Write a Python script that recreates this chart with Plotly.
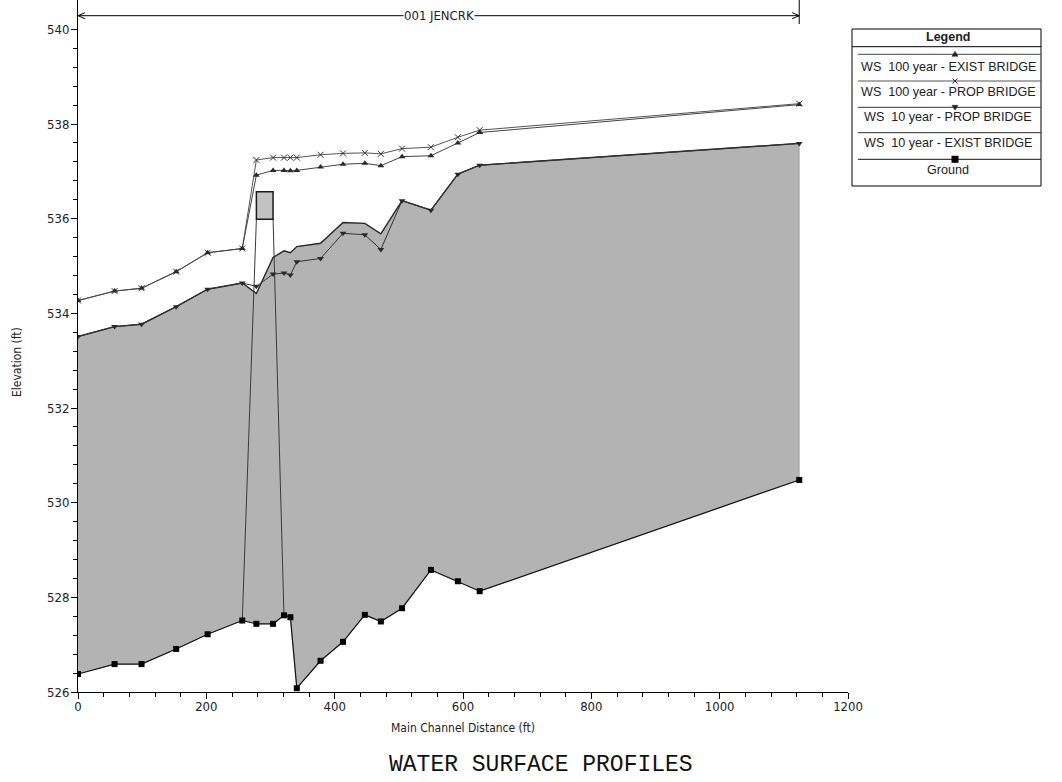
import plotly.graph_objects as go

W, H = 1062, 782
ML, MR, MT, MB = 78, 214, 0, 90

# River stations (ft) along the main channel
stations = [0, 57, 99, 153, 202, 256, 278, 304, 321, 331, 341, 378, 413, 447, 472,
            505, 550, 592, 626, 1124]

ground = [526.38, 526.59, 526.59, 526.91, 527.22, 527.51, 527.44, 527.44, 527.62,
          527.58, 526.08, 526.66, 527.06, 527.63, 527.49, 527.77, 528.58, 528.34,
          528.13, 530.48]

ws100_exist = [534.27, 534.47, 534.53, 534.88, 535.28, 535.37, 536.92, 537.02, 537.02,
               537.01, 537.02, 537.09, 537.15, 537.17, 537.12, 537.31, 537.33, 537.60,
               537.82, 538.41]

ws100_prop = [534.27, 534.47, 534.53, 534.88, 535.28, 535.37, 537.24, 537.29, 537.29,
              537.29, 537.29, 537.35, 537.38, 537.39, 537.37, 537.48, 537.51, 537.72,
              537.87, 538.43]

ws10_prop = [533.51, 533.72, 533.77, 534.14, 534.51, 534.64, 534.57, 534.83, 534.85,
             534.81, 535.09, 535.16, 535.69, 535.66, 535.35, 536.38, 536.18, 536.94,
             537.13, 537.59]

ws10_exist = [533.51, 533.72, 533.77, 534.14, 534.51, 534.64, 534.42, 535.18, 535.32,
              535.28, 535.41, 535.48, 535.92, 535.90, 535.68, 536.38, 536.18, 536.94,
              537.13, 537.59]

# Bridge geometry
bridge_face_sta = [278, 304]
bridge_toe_sta = [256, 321]
bridge_low_chord = 535.99
bridge_high_chord = 536.57

reach_name = "001 JENCRK"
x_ticks = [0, 200, 400, 600, 800, 1000, 1200]
y_ticks = [526, 528, 530, 532, 534, 536, 538, 540]
x_minor = [v for v in range(0, 1201, 40) if v % 200]
y_minor = [round(526 + 0.4 * i, 1) for i in range(36) if i % 5]

series_names = ["WS  100 year - EXIST BRIDGE", "WS  100 year - PROP BRIDGE",
                "WS  10 year - PROP BRIDGE", "WS  10 year - EXIST BRIDGE", "Ground"]

NARROW = "Liberation Sans Narrow, DejaVu Sans Condensed, Liberation Sans, Arial"
SANS = "Liberation Sans, Arial"
FILL = "#b3b3b3"

PW = W - ML - MR
PH = H - MT - MB


def px(x):
    """Figure pixel column -> paper x."""
    return (x - ML) / PW


def py(y):
    """Figure pixel row -> paper y."""
    return (H - MB - y) / PH


fig = go.Figure()

# Water between ground and the 10-year existing-bridge surface
fig.add_trace(go.Scatter(
    x=stations + stations[::-1], y=ws10_exist + ground[::-1],
    fill="toself", fillcolor=FILL, mode="lines",
    line=dict(color="#8a8a8a", width=0.6), hoverinfo="skip", showlegend=False))

# Bridge abutment lines, ground toe to deck
toe_elev = [ground[stations.index(s)] for s in bridge_toe_sta]
fig.add_trace(go.Scatter(
    x=[bridge_toe_sta[0], bridge_face_sta[0], None, bridge_face_sta[1], bridge_toe_sta[1]],
    y=[toe_elev[0], bridge_low_chord, None, bridge_low_chord, toe_elev[1]],
    mode="lines", line=dict(color="#3a3a3a", width=1), showlegend=False, hoverinfo="skip"))

line_col = "#2a2a2a"
fig.add_trace(go.Scatter(
    x=stations, y=ws100_prop, mode="lines+markers", name=series_names[1],
    line=dict(color="#555555", width=1),
    marker=dict(symbol="x-thin", size=6, line=dict(color="#333333", width=1))))
fig.add_trace(go.Scatter(
    x=stations, y=ws100_exist, mode="lines+markers", name=series_names[0],
    line=dict(color="#444444", width=1),
    marker=dict(symbol="triangle-up", size=6, color=line_col)))
fig.add_trace(go.Scatter(
    x=stations, y=ws10_exist, mode="lines", name=series_names[3],
    line=dict(color=line_col, width=1.4)))
fig.add_trace(go.Scatter(
    x=stations, y=ws10_prop, mode="lines+markers", name=series_names[2],
    line=dict(color="#333333", width=1),
    marker=dict(symbol="triangle-down", size=6, color=line_col)))
fig.add_trace(go.Scatter(
    x=stations, y=ground, mode="lines+markers", name=series_names[4],
    line=dict(color="#111111", width=1.2),
    marker=dict(symbol="square", size=6, color="#000000")))

shapes = []
annotations = []

# Bridge deck
shapes.append(dict(type="rect", xref="x", yref="y",
                   x0=bridge_face_sta[0], x1=bridge_face_sta[1],
                   y0=bridge_low_chord, y1=bridge_high_chord,
                   fillcolor="#c2c2c2", line=dict(color="#1a1a1a", width=1.5)))

# Reach extent marker along the top
ry = py(15.7)
shapes.append(dict(type="line", xref="x", yref="paper", x0=stations[0], x1=stations[-1],
                   y0=ry, y1=ry, line=dict(color="#000000", width=1)))
shapes.append(dict(type="line", xref="x", yref="paper", x0=stations[-1], x1=stations[-1],
                   y0=py(24), y1=py(0), line=dict(color="#000000", width=1)))
ax_len = 7 * 1200 / PW
ah = 3 / PH
for xe, sgn in [(stations[0], 1), (stations[-1], -1)]:
    for d in (ah, -ah):
        shapes.append(dict(type="line", xref="x", yref="paper", x0=xe, x1=xe + sgn * ax_len,
                           y0=ry, y1=ry + d, line=dict(color="#000000", width=1)))
annotations.append(dict(x=(stations[0] + stations[-1]) / 2, y=ry, xref="x", yref="paper",
                        text=reach_name, showarrow=False, bgcolor="white", borderpad=0,
                        font=dict(family=NARROW, size=13, color="#222222"),
                        xanchor="center", yanchor="middle"))

# Legend panel
lx0, lx1, ly0, ly1 = 852, 1041, 29, 186
shapes.append(dict(type="rect", xref="paper", yref="paper", x0=px(lx0), x1=px(lx1),
                   y0=py(ly1), y1=py(ly0), line=dict(color="#000000", width=1),
                   fillcolor="white"))
shapes.append(dict(type="line", xref="paper", yref="paper", x0=px(lx0), x1=px(lx1),
                   y0=py(46.7), y1=py(46.7), line=dict(color="#000000", width=1)))
annotations.append(dict(x=px(948), y=py(37), xref="paper", yref="paper", text="<b>Legend</b>",
                        showarrow=False, font=dict(family=SANS, size=12.5, color="#222222"),
                        xanchor="center", yanchor="middle"))

legend_rows = [
    (54.3, 66.7, series_names[0], "tri_up", "#444444"),
    (81.0, 91.7, series_names[1], "x", "#555555"),
    (107.3, 117.3, series_names[2], "tri_down", "#333333"),
    (132.7, 143.3, series_names[3], None, "#2a2a2a"),
    (159.3, 170.0, series_names[4], "square", "#111111"),
]
mx = 955
for yl, yt, name, sym, col in legend_rows:
    shapes.append(dict(type="line", xref="paper", yref="paper", x0=px(858), x1=px(lx1),
                       y0=py(yl), y1=py(yl), line=dict(color=col, width=1)))
    if sym == "tri_up":
        path = f"M {px(mx-3)} {py(yl+2)} L {px(mx+3)} {py(yl+2)} L {px(mx)} {py(yl-3)} Z"
        shapes.append(dict(type="path", xref="paper", yref="paper", path=path,
                           fillcolor="#222222", line=dict(color="#222222", width=0.5)))
    elif sym == "tri_down":
        path = f"M {px(mx-3)} {py(yl-2)} L {px(mx+3)} {py(yl-2)} L {px(mx)} {py(yl+3)} Z"
        shapes.append(dict(type="path", xref="paper", yref="paper", path=path,
                           fillcolor="#222222", line=dict(color="#222222", width=0.5)))
    elif sym == "x":
        path = (f"M {px(mx-2.5)} {py(yl-2.5)} L {px(mx+2.5)} {py(yl+2.5)} "
                f"M {px(mx-2.5)} {py(yl+2.5)} L {px(mx+2.5)} {py(yl-2.5)}")
        shapes.append(dict(type="path", xref="paper", yref="paper", path=path,
                           line=dict(color="#333333", width=1)))
    elif sym == "square":
        shapes.append(dict(type="rect", xref="paper", yref="paper",
                           x0=px(mx-3.5), x1=px(mx+3.5), y0=py(yl+3.5), y1=py(yl-3.5),
                           fillcolor="#000000", line=dict(width=0)))
    annotations.append(dict(x=px(948), y=py(yt), xref="paper", yref="paper",
                            text=name.replace("  ", "\u00a0 "), showarrow=False,
                            font=dict(family=SANS, size=12.6, color="#222222"),
                            xanchor="center", yanchor="middle"))

# Axis titles and caption
annotations.append(dict(x=px(463), y=py(728), xref="paper", yref="paper",
                        text="Main Channel Distance (ft)", showarrow=False,
                        font=dict(family=NARROW, size=12, color="#222222"),
                        xanchor="center", yanchor="middle"))
annotations.append(dict(x=px(17), y=py(362), xref="paper", yref="paper",
                        text="Elevation (ft)", showarrow=False, textangle=-90,
                        font=dict(family=NARROW, size=12, color="#222222"),
                        xanchor="center", yanchor="middle"))
annotations.append(dict(x=px(541), y=py(765), xref="paper", yref="paper",
                        text="WATER SURFACE PROFILES", showarrow=False,
                        font=dict(family="Liberation Mono, DejaVu Sans Mono", size=23,
                                  color="#111111"),
                        xanchor="center", yanchor="middle"))

axis_common = dict(showgrid=False, zeroline=False, showline=True, linecolor="#000000",
                   linewidth=1, ticks="outside", ticklen=6, tickcolor="#000000",
                   tickfont=dict(family=NARROW, size=13, color="#222222"))

fig.update_layout(
    width=W, height=H,
    margin=dict(l=ML, r=MR, t=MT, b=MB, pad=0),
    paper_bgcolor="white", plot_bgcolor="white",
    showlegend=False,
    shapes=shapes, annotations=annotations,
    xaxis=dict(range=[0, 1200], tickmode="array", tickvals=x_ticks, ticklabelstandoff=-4,
               minor=dict(tickmode="array", tickvals=x_minor, ticks="outside", ticklen=4,
                          tickcolor="#000000"),
               **axis_common),
    yaxis=dict(range=[526, 540.62], tickmode="array", tickvals=y_ticks, ticklabelstandoff=-1,
               minor=dict(tickmode="array", tickvals=y_minor, ticks="outside", ticklen=4,
                          tickcolor="#000000"),
               **axis_common),
)

fig.write_html("out.html")
